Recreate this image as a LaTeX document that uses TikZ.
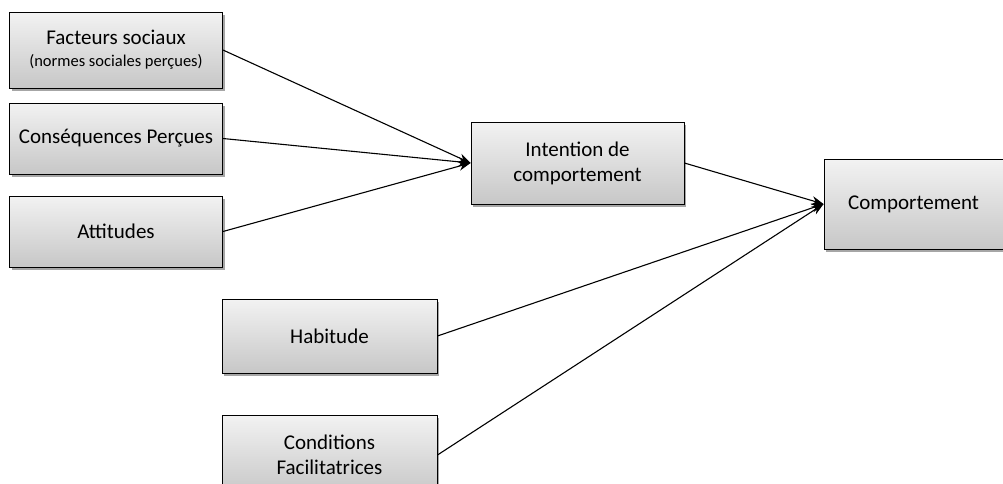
\documentclass[tikz,border=0pt]{standalone}
\usepackage{fontspec}
\setmainfont{Carlito}
\usetikzlibrary{arrows.meta,shadows}
\tikzset{
  box/.style={draw=black, line width=0.9pt, top color=black!5, bottom color=black!22,
    inner sep=0pt, align=center, font=\fontsize{21}{25}\selectfont,
    drop shadow={shadow xshift=2pt, shadow yshift=-2.5pt, opacity=0.35, fill=black}},
  conn/.style={line width=1.1pt, -{Stealth[length=12pt,width=9pt]}}
}
\begin{document}
\begin{tikzpicture}[x=1pt,y=-1pt]
\useasboundingbox (0,0) rectangle (1003,483);
\clip (0,0) rectangle (1003,483);
\node[box, minimum width=213pt, minimum height=76pt] (fs) at (116,50)
  {Facteurs sociaux\\[-3pt]{\fontsize{16.5}{20}\selectfont (normes sociales perçues)}};
\node[box, minimum width=213pt, minimum height=71pt] (cp) at (116,138.5) {Conséquences Perçues};
\node[box, minimum width=213pt, minimum height=71pt] (at) at (116,231.5) {Attitudes};
\node[box, minimum width=213pt, minimum height=82pt] (ic) at (577.5,163) {Intention de\\comportement};
\node[box, minimum width=179pt, minimum height=90pt] (co) at (913.5,204) {Comportement};
\node[box, minimum width=215pt, minimum height=74pt] (hb) at (329.5,336) {Habitude};
\node[box, minimum width=215pt, minimum height=80pt] (cf) at (329.5,455) {Conditions\\Facilitatrices};
\draw[conn] (fs.east) -- (ic.west);
\draw[conn] (cp.east) -- (ic.west);
\draw[conn] (at.east) -- (ic.west);
\draw[conn] (ic.east) -- (co.west);
\draw[conn] (hb.east) -- (co.west);
\draw[conn] (cf.east) -- (co.west);
\end{tikzpicture}
\end{document}
